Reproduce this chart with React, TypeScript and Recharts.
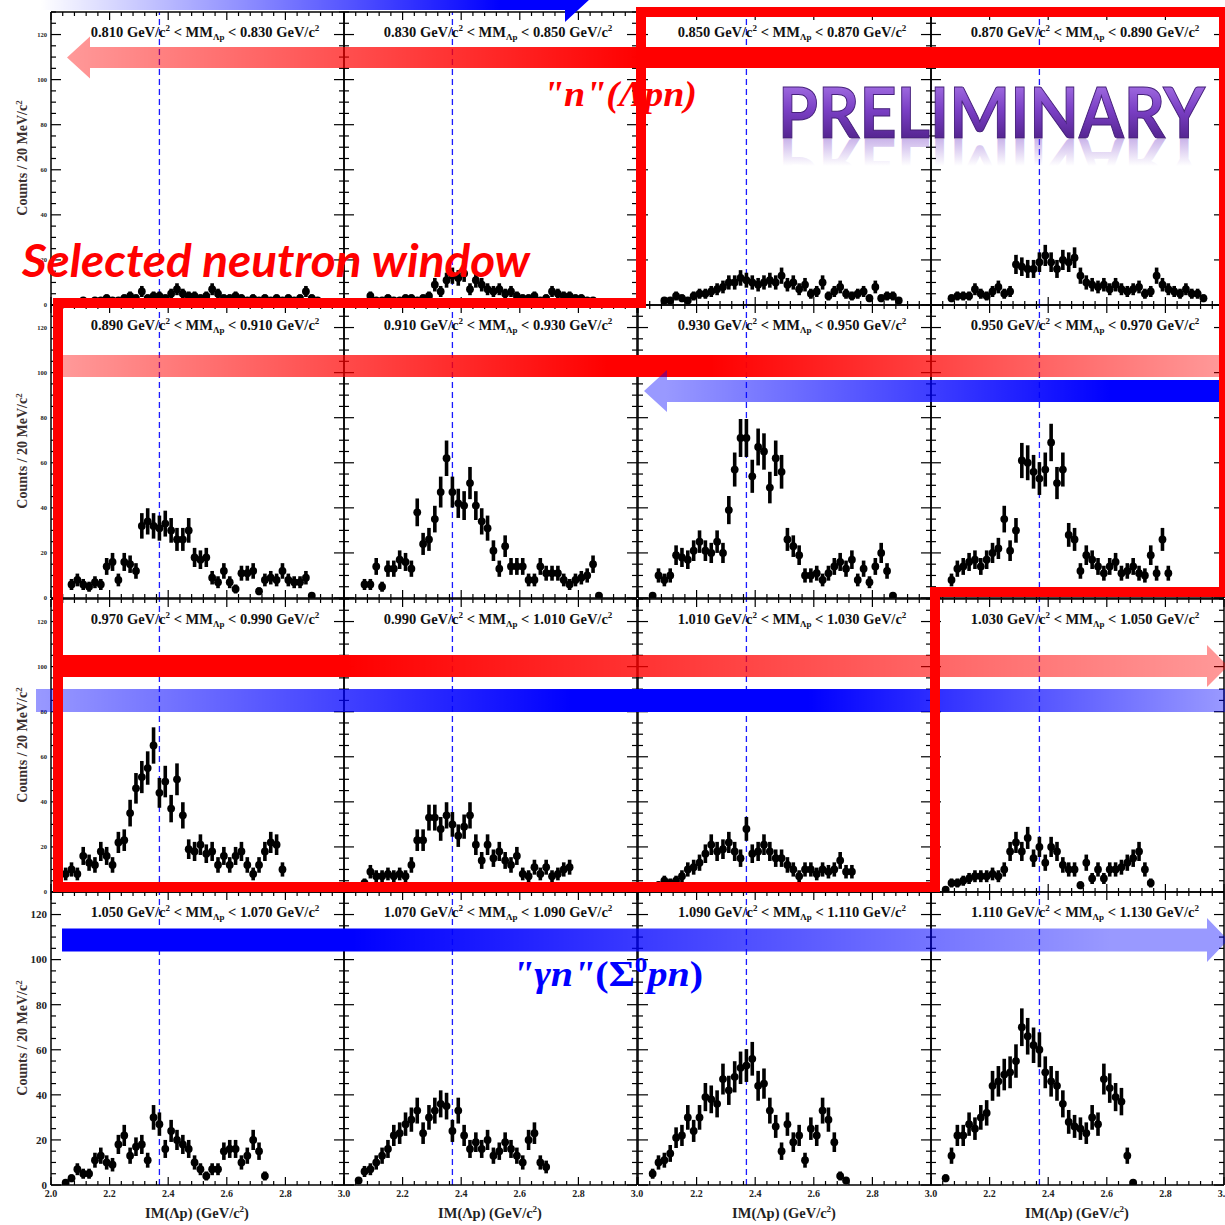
import React from 'react';
import { ScatterChart, Scatter, XAxis, YAxis, ErrorBar, ReferenceLine } from 'recharts';

// IM(Λp) bin centres, 20 MeV bins
const BIN_CENTERS = [
  2.05, 2.07, 2.09, 2.11, 2.13, 2.15, 2.17, 2.19, 2.21, 2.23, 2.25, 2.27, 2.29, 2.31, 2.33,
  2.35, 2.37, 2.39, 2.41, 2.43, 2.45, 2.47, 2.49, 2.51, 2.53, 2.55, 2.57, 2.59, 2.61, 2.63,
  2.65, 2.67, 2.69, 2.71, 2.73, 2.75, 2.77, 2.79, 2.81, 2.83, 2.85, 2.87, 2.89, 2.91, 2.93,
];
const BIN_HALF_WIDTH = 0.01;

// missing-mass slice edges (GeV/c^2)
const MM_LOW = ['0.810', '0.830', '0.850', '0.870', '0.890', '0.910', '0.930', '0.950',
  '0.970', '0.990', '1.010', '1.030', '1.050', '1.070', '1.090', '1.110'];
const MM_HIGH = ['0.830', '0.850', '0.870', '0.890', '0.910', '0.930', '0.950', '0.970',
  '0.990', '1.010', '1.030', '1.050', '1.070', '1.090', '1.110', '1.130'];

// counts per bin, one array per MM slice (null = empty bin)
const counts0810 = [null, 1, 1, 2, 1, 2, 2, 3, 2, 2, 3, 4, 3, 6, 3, 4, 4, 3, 5, 7, 5, 4, 4, 3, 4, 7, 5, 3, 3, 4, 3, 2, 3, 2, 3, 2, 3, 2, 3, 2, 3, 6, 3, 2, 1];
const counts0830 = [null, 1, 4, 2, 2, 3, 2, 2, 3, 3, 2, 3, 4, 9, 6, 11, 13, 12, 14, 7, 11, 9, 7, 6, 7, 5, 6, 4, 3, 3, 4, 2, 3, 6, 5, 4, 4, 3, 3, 2, 2, 1];
const counts0850 = [null, null, 2, 2, 4, 3, 2, 4, 5, 5, 6, 7, 8, 10, 10, 12, 11, 10, 9, 10, 11, 10, 13, 9, 10, 7, 9, 5, 6, 10, 4, 6, 8, 5, 4, 5, 6, 3, 8, 3, 4, 4, 2];
const counts0870 = [null, 3, 4, 4, 4, 7, 5, 4, 6, 8, 5, 6, 18, 17, 16, 16, 19, 22, 19, 16, 20, 19, 21, 13, 10, 9, 8, 9, 7, 9, 7, 6, 7, 8, 5, 6, 13, 9, 7, 6, 5, 7, 5, 5, 3];
const counts0890 = [null, 6, 8, 6, 5, 7, 6, 14, 16, 8, 16, 15, 12, 32, 34, 32, 31, 33, 30, 26, 26, 30, 18, 17, 18, 9, 7, 12, 7, 4, 11, 11, 12, 3, 8, 9, 8, 12, 8, 7, 7, 9, 1];
const counts0910 = [null, 6, 6, 14, 5, 13, 13, 17, 16, 13, 38, 24, 26, 35, 47, 62, 47, 42, 41, 51, 41, 34, 31, 21, 13, 23, 14, 14, 14, 8, 8, 14, 11, 11, 11, 8, 6, 8, 9, 10, 15, 1];
const counts0930 = [1, 10, 8, 10, 19, 18, 17, 21, 25, 21, 20, 25, 20, 39, 57, 71, 71, 54, 67, 65, 49, 62, 56, 26, 23, 19, 10, 10, 11, 8, 11, 14, 16, 13, 17, 8, 13, 7, 14, 20, 12, 1];
const counts0950 = [3, 8, 13, 14, 16, 17, 14, 17, 20, 22, 35, 21, 30, 61, 60, 56, 53, 57, 69, 51, 57, 28, 26, 12, 19, 17, 14, 11, 14, 16, 11, 12, 14, 11, 10, 19, 11, 26, 11];
const counts0970 = [8, 10, 8, 16, 13, 12, 18, 16, 12, 22, 23, 35, 46, 51, 55, 65, 44, 49, 37, 50, 34, 19, 18, 21, 17, 18, 12, 16, 12, 16, 18, 12, 8, 12, 18, 22, 21, 10];
const counts0990 = [2, 4, 9, 7, 7, 8, 7, 8, 7, 12, 23, 23, 33, 33, 28, 34, 30, 25, 29, 34, 21, 14, 21, 15, 18, 14, 12, 16, 8, 7, 11, 8, 11, 7, 8, 10, 11];
const counts1010 = [2, 3, 5, 4, 5, 7, 10, 11, 13, 17, 21, 18, 19, 22, 18, 15, 28, 17, 18, 21, 18, 15, 15, 12, 10, 7, 10, 10, 8, 10, 9, 10, 14, 9, 9];
const counts1030 = [1, 4, 4, 5, 6, 7, 7, 7, 8, 7, 10, 18, 22, 18, 24, 15, 20, 13, 20, 18, 12, 10, 10, 3, 13, 6, 10, 6, 10, 10, 11, 13, 15, 18, 10, 4];
const counts1050 = [1, 3, 7, 5, 5, 11, 13, 10, 9, 18, 22, 13, 17, 18, 11, 30, 27, 16, 24, 20, 18, 16, 10, 7, 4, 7, 7, 15, 16, 16, 10, 13, 20, 15, 4];
const counts1070 = [2, 6, 7, 10, 13, 16, 22, 23, 27, 29, 33, 23, 30, 33, 36, 35, 24, 33, 22, 16, 19, 16, 20, 13, 15, 19, 16, 13, 10, 20, 23, 10, 8];
const counts1090 = [5, 10, 11, 14, 21, 22, 30, 24, 30, 39, 38, 36, 47, 42, 48, 52, 53, 56, 44, 45, 33, 26, 15, 27, 19, 22, 11, 25, 22, 33, 29, 19, 4, 2];
const counts1110 = [3, 13, 22, 22, 27, 25, 30, 32, 44, 46, 49, 50, 55, 70, 66, 62, 60, 50, 46, 44, 36, 28, 26, 25, 23, 30, 27, 47, 43, 39, 37, 13, 1];

const ALL_COUNTS = [
  counts0810, counts0830, counts0850, counts0870,
  counts0890, counts0910, counts0930, counts0950,
  counts0970, counts0990, counts1010, counts1030,
  counts1050, counts1070, counts1090, counts1110,
];

const X_TICKS = [2.0, 2.04, 2.08, 2.12, 2.16, 2.2, 2.24, 2.28, 2.32, 2.36, 2.4, 2.44, 2.48, 2.52,
  2.56, 2.6, 2.64, 2.68, 2.72, 2.76, 2.8, 2.84, 2.88, 2.92, 2.96, 3.0];
const Y_TICKS = [0, 5, 10, 15, 20, 25, 30, 35, 40, 45, 50, 55, 60, 65, 70, 75, 80, 85, 90, 95,
  100, 105, 110, 115, 120, 125, 130];
const THRESHOLD = 2.37;

// layout
const PANEL_LEFT = [51, 344, 638, 931];
const PANEL_TOP = [12, 305, 599, 892];
const PLOT_W = 293;
const PLOT_H = 293;
const AXIS_W = 50;
const AXIS_H = 45;
const RIGHT_PAD = 14;
const AXIS_LINE = { stroke: '#000', strokeWidth: 1.5 };
const SERIF = '"Liberation Serif", "Times New Roman", serif';

const isMultiple = (v: number, step: number) => Math.abs(v / step - Math.round(v / step)) < 1e-6;

type Pt = { x: number; y: number; ey: number; ex: number };

function toPoints(counts: (number | null)[]): Pt[] {
  const pts: Pt[] = [];
  counts.forEach((c, i) => {
    if (c === null) return;
    pts.push({ x: BIN_CENTERS[i], y: c, ey: Math.sqrt(c), ex: BIN_HALF_WIDTH });
  });
  return pts;
}

const Dot = (p: any) => <circle cx={p.cx} cy={p.cy} r={3.9} fill="#000" />;
const NoDot = () => <g />;

function Panel({ index }: { index: number }) {
  const row = Math.floor(index / 4);
  const col = index % 4;
  const pts = toPoints(ALL_COUNTS[index]);
  const yFont = row === 3 ? 11 : 6.5;

  const bottomTick = (p: any) => {
    const v = p.payload.value;
    const major = isMultiple(v, 0.2);
    const label = row === 3 && major && !(col > 0 && v < 2.1);
    return (
      <g>
        <line x1={p.x} x2={p.x} y1={p.y} y2={p.y - (major ? 8 : 4)} stroke="#000" strokeWidth={1.2} />
        {label && (
          <text x={p.x} y={p.y + 12} textAnchor="middle" fontFamily={SERIF} fontWeight="bold" fontSize={10} fill="#222">
            {v.toFixed(1)}
          </text>
        )}
      </g>
    );
  };
  const topTick = (p: any) => {
    const major = isMultiple(p.payload.value, 0.2);
    return <line x1={p.x} x2={p.x} y1={p.y} y2={p.y + (major ? 8 : 4)} stroke="#000" strokeWidth={1.2} />;
  };
  const leftTick = (p: any) => {
    const v = p.payload.value;
    const major = isMultiple(v, 20);
    const label = col === 0 && major && v <= 120;
    return (
      <g>
        <line x1={p.x} x2={p.x + (major ? 10 : 5)} y1={p.y} y2={p.y} stroke="#000" strokeWidth={1.2} />
        {label && (
          <text x={p.x - 4} y={p.y + yFont * 0.35} textAnchor="end" fontFamily={SERIF} fontWeight="bold" fontSize={yFont} fill="#222">
            {v}
          </text>
        )}
      </g>
    );
  };
  const rightTick = (p: any) => {
    const major = isMultiple(p.payload.value, 20);
    return <line x1={p.x} x2={p.x - (major ? 10 : 5)} y1={p.y} y2={p.y} stroke="#000" strokeWidth={1.2} />;
  };

  return (
    <div style={{ position: 'absolute', left: PANEL_LEFT[col] - AXIS_W, top: PANEL_TOP[row] - 1 }}>
      <ScatterChart
        width={AXIS_W + PLOT_W + 1 + RIGHT_PAD}
        height={1 + PLOT_H + AXIS_H}
        margin={{ top: 0, right: RIGHT_PAD, bottom: 0, left: 0 }}
      >
        <XAxis xAxisId="b" type="number" dataKey="x" orientation="bottom" domain={[2, 3]} allowDataOverflow
          ticks={X_TICKS} interval={0} height={AXIS_H} tickSize={0} tickMargin={0} tickLine={false}
          axisLine={AXIS_LINE} tick={bottomTick} />
        <XAxis xAxisId="t" type="number" dataKey="x" orientation="top" domain={[2, 3]} allowDataOverflow
          ticks={X_TICKS} interval={0} height={1} tickSize={0} tickMargin={0} tickLine={false}
          axisLine={AXIS_LINE} tick={topTick} />
        <YAxis yAxisId="l" type="number" dataKey="y" orientation="left" domain={[0, 130]} allowDataOverflow
          ticks={Y_TICKS} interval={0} width={AXIS_W} tickSize={0} tickMargin={0} tickLine={false}
          axisLine={AXIS_LINE} tick={leftTick} />
        <YAxis yAxisId="r" type="number" dataKey="y" orientation="right" domain={[0, 130]} allowDataOverflow
          ticks={Y_TICKS} interval={0} width={1} tickSize={0} tickMargin={0} tickLine={false}
          axisLine={AXIS_LINE} tick={rightTick} />
        <ReferenceLine xAxisId="b" yAxisId="l" x={THRESHOLD} stroke="#1a1aff" strokeWidth={1.3} strokeDasharray="6 4" />
        <Scatter xAxisId="b" yAxisId="l" data={pts} shape={Dot} isAnimationActive={false}>
          <ErrorBar dataKey="ey" direction="y" width={0} stroke="#000" strokeWidth={3.6} isAnimationActive={false} />
          <ErrorBar dataKey="ex" direction="x" width={0} stroke="#000" strokeWidth={3.6} isAnimationActive={false} />
        </Scatter>
        <Scatter xAxisId="t" yAxisId="r" data={pts} shape={NoDot} isAnimationActive={false} legendType="none" />
      </ScatterChart>
    </div>
  );
}

function rightArrow(x0: number, xh: number, tip: number, c: number, h1: number, h2: number) {
  return `${x0},${c - h1} ${xh},${c - h1} ${xh},${c - h2} ${tip},${c} ${xh},${c + h2} ${xh},${c + h1} ${x0},${c + h1}`;
}
function leftArrow(tip: number, xh: number, x1: number, c: number, h1: number, h2: number) {
  return `${tip},${c} ${xh},${c - h2} ${xh},${c - h1} ${x1},${c - h1} ${x1},${c + h1} ${xh},${c + h1} ${xh},${c + h2}`;
}

function Labels() {
  return (
    <svg width={1225} height={1225} style={{ position: 'absolute', left: 0, top: 0, pointerEvents: 'none' }}>
      {MM_LOW.map((lo, i) => {
        const row = Math.floor(i / 4);
        const col = i % 4;
        return (
          <text key={lo} x={PANEL_LEFT[col] + 154} y={PANEL_TOP[row] + 25} textAnchor="middle"
            fontFamily={SERIF} fontWeight="bold" fontSize={14.5} fill="#111">
            {lo + ' GeV/c'}
            <tspan dy={-6} fontSize={9}>2</tspan>
            <tspan dy={6}>{' < MM'}</tspan>
            <tspan dy={3} fontSize={9}>Λp</tspan>
            <tspan dy={-3}>{' < ' + MM_HIGH[i] + ' GeV/c'}</tspan>
            <tspan dy={-6} fontSize={9}>2</tspan>
          </text>
        );
      })}
      {PANEL_TOP.map((top) => (
        <text key={top} transform={`translate(27, ${top + 146}) rotate(-90)`} textAnchor="middle"
          fontFamily={SERIF} fontWeight="bold" fontSize={14} fill="#3b3030">
          Counts / 20 MeV/c
          <tspan dy={-5} fontSize={9}>2</tspan>
        </text>
      ))}
      {PANEL_LEFT.map((left) => (
        <text key={left} x={left + 146} y={1218} textAnchor="middle" fontFamily={SERIF} fontWeight="bold"
          fontSize={14.5} fill="#222">
          IM(Λp) (GeV/c
          <tspan dy={-6} fontSize={9}>2</tspan>
          <tspan dy={6}>)</tspan>
        </text>
      ))}
    </svg>
  );
}

function Annotations() {
  return (
    <svg width={1225} height={1225} style={{ position: 'absolute', left: 0, top: 0, pointerEvents: 'none' }}>
      <defs>
        <linearGradient id="gBlueTop" gradientUnits="userSpaceOnUse" x1={40} y1={0} x2={500} y2={0}>
          <stop offset="0" stopColor="#0000ff" stopOpacity={0} />
          <stop offset="1" stopColor="#0000ff" stopOpacity={1} />
        </linearGradient>
        <linearGradient id="gRed1" gradientUnits="userSpaceOnUse" x1={67} y1={0} x2={640} y2={0}>
          <stop offset="0" stopColor="#ff0000" stopOpacity={0.4} />
          <stop offset="1" stopColor="#ff0000" stopOpacity={1} />
        </linearGradient>
        <linearGradient id="gRed2" gradientUnits="userSpaceOnUse" x1={62} y1={0} x2={1222} y2={0}>
          <stop offset="0" stopColor="#ff0000" stopOpacity={0.4} />
          <stop offset="0.47" stopColor="#ff0000" stopOpacity={1} />
          <stop offset="0.56" stopColor="#ff0000" stopOpacity={1} />
          <stop offset="1" stopColor="#ff0000" stopOpacity={0.4} />
        </linearGradient>
        <linearGradient id="gBlue2" gradientUnits="userSpaceOnUse" x1={665} y1={0} x2={1222} y2={0}>
          <stop offset="0" stopColor="#0000ff" stopOpacity={0.4} />
          <stop offset="0.8" stopColor="#0000ff" stopOpacity={1} />
          <stop offset="1" stopColor="#0000ff" stopOpacity={1} />
        </linearGradient>
        <linearGradient id="gRed3" gradientUnits="userSpaceOnUse" x1={55} y1={0} x2={1228} y2={0}>
          <stop offset="0" stopColor="#ff0000" stopOpacity={1} />
          <stop offset="0.25" stopColor="#ff0000" stopOpacity={1} />
          <stop offset="1" stopColor="#ff0000" stopOpacity={0.4} />
        </linearGradient>
        <linearGradient id="gBlue3" gradientUnits="userSpaceOnUse" x1={36} y1={0} x2={1225} y2={0}>
          <stop offset="0" stopColor="#0000ff" stopOpacity={0.4} />
          <stop offset="0.45" stopColor="#0000ff" stopOpacity={1} />
          <stop offset="0.65" stopColor="#0000ff" stopOpacity={1} />
          <stop offset="1" stopColor="#0000ff" stopOpacity={0.4} />
        </linearGradient>
        <linearGradient id="gBlue4" gradientUnits="userSpaceOnUse" x1={62} y1={0} x2={1228} y2={0}>
          <stop offset="0" stopColor="#0000ff" stopOpacity={1} />
          <stop offset="0.25" stopColor="#0000ff" stopOpacity={1} />
          <stop offset="0.9" stopColor="#0000ff" stopOpacity={0.4} />
          <stop offset="1" stopColor="#0000ff" stopOpacity={0.4} />
        </linearGradient>
        <linearGradient id="gPrelim" gradientUnits="userSpaceOnUse" x1={0} y1={88} x2={0} y2={138}>
          <stop offset="0" stopColor="#9b66dd" />
          <stop offset="0.45" stopColor="#7a3fc4" />
          <stop offset="1" stopColor="#552591" />
        </linearGradient>
        <linearGradient id="gPrelimRefl" gradientUnits="userSpaceOnUse" x1={0} y1={139} x2={0} y2={112}>
          <stop offset="0" stopColor="#8a5ad0" stopOpacity={0.45} />
          <stop offset="1" stopColor="#8a5ad0" stopOpacity={0} />
        </linearGradient>
      </defs>

      <polygon points={rightArrow(40, 565, 590, -1, 11, 23)} fill="url(#gBlueTop)" />
      <polygon points={leftArrow(67, 90, 1225, 57.5, 10.5, 21)} fill="url(#gRed1)" />
      <rect x={62} y={355} width={1160} height={22} fill="url(#gRed2)" />
      <polygon points={leftArrow(644, 667, 1222, 391, 11, 21)} fill="url(#gBlue2)" />
      <polygon points={rightArrow(55, 1207, 1228, 666, 11, 21)} fill="url(#gRed3)" />
      <rect x={36} y={689} width={1189} height={23} fill="url(#gBlue3)" />
      <polygon points={rightArrow(62, 1207, 1228, 940, 11.5, 22)} fill="url(#gBlue4)" />

      <text x={543} y={106} fontFamily={SERIF} fontStyle="italic" fontWeight="bold" fontSize={35}
        fill="#ff0000" textLength={154} lengthAdjust="spacingAndGlyphs">
        "n"(Λpn)
      </text>

      <polygon points="641,12 1224,12 1224,592 935,592 935,887 58,887 58,303 641,303"
        fill="none" stroke="#ff0000" strokeWidth={10} strokeLinejoin="miter" />

      <text x={22} y={277} fontFamily="Lato, 'Open Sans', sans-serif" fontStyle="italic" fontWeight="bold"
        fontSize={46} fill="#ff0000" textLength={508} lengthAdjust="spacingAndGlyphs">
        Selected neutron window
      </text>

      <text x={512} y={986} fontFamily={SERIF} fontWeight="bold" fontSize={35} fill="#0000ff"
        textLength={191} lengthAdjust="spacingAndGlyphs">
        <tspan fontStyle="italic">"γn"</tspan>
        <tspan>(Σ</tspan>
        <tspan dy={-14} fontSize={22}>0</tspan>
        <tspan dy={14} fontStyle="italic">pn</tspan>
        <tspan>)</tspan>
      </text>

      <g transform="translate(0, 278) scale(1, -1)">
        <text x={778} y={139} fontFamily="Lato, 'Open Sans', sans-serif" fontWeight="bold" fontSize={70}
          fill="url(#gPrelimRefl)" textLength={427} lengthAdjust="spacingAndGlyphs">
          PRELIMINARY
        </text>
      </g>
      <text x={778} y={138} fontFamily="Lato, 'Open Sans', sans-serif" fontWeight="bold" fontSize={70}
        fill="url(#gPrelim)" stroke="#45207a" strokeWidth={1} textLength={427} lengthAdjust="spacingAndGlyphs">
        PRELIMINARY
      </text>
    </svg>
  );
}

export default function App() {
  return (
    <div style={{ position: 'absolute', left: 0, top: 0, width: 1225, height: 1225, background: '#fff', overflow: 'hidden' }}>
      {ALL_COUNTS.map((_, i) => (
        <Panel key={i} index={i} />
      ))}
      <Labels />
      <Annotations />
    </div>
  );
}
